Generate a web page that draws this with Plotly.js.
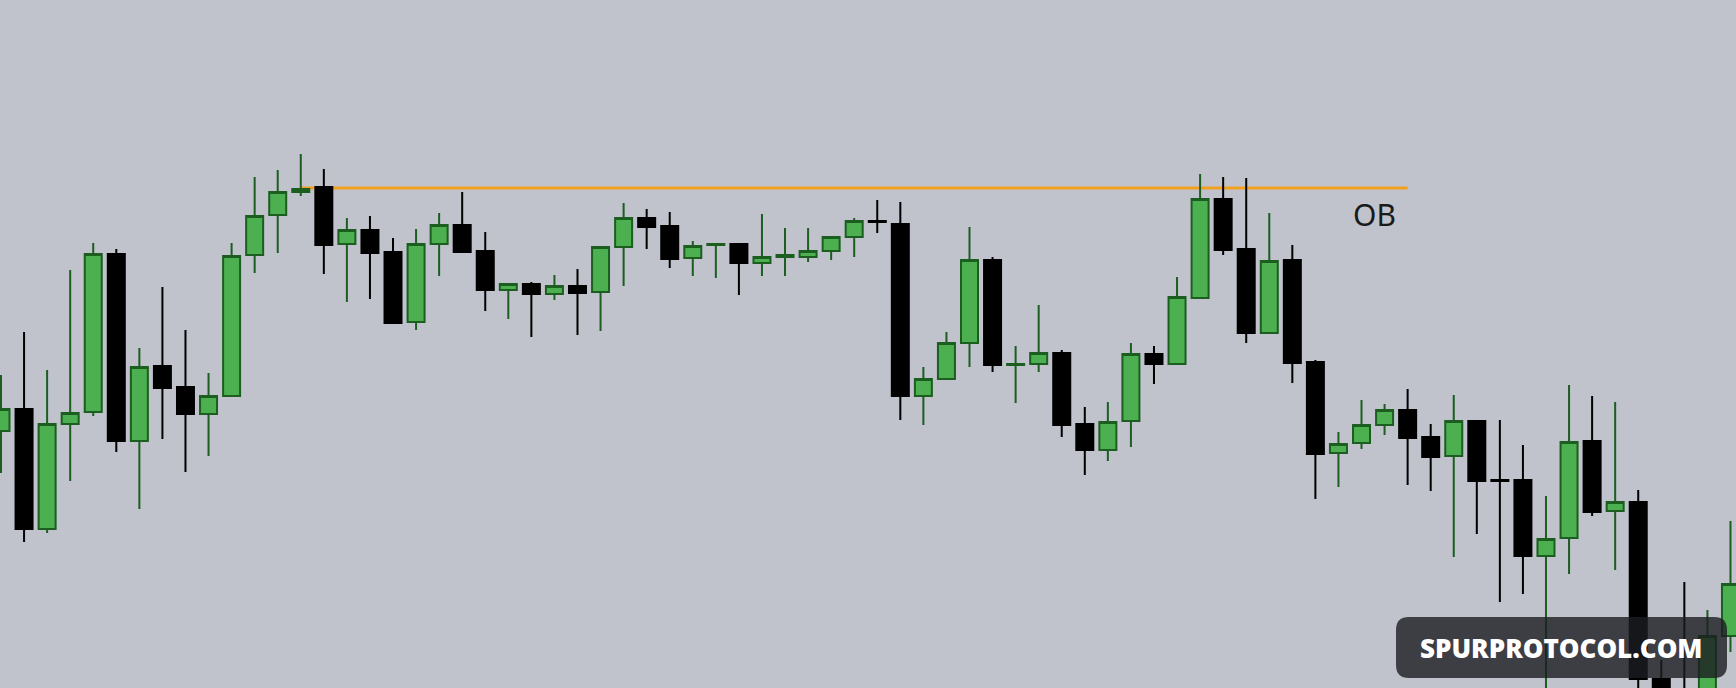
<!DOCTYPE html>
<html>
<head>
<meta charset="utf-8">
<script src="https://cdn.plot.ly/plotly-3.0.1.min.js"></script>
<style>
  html, body { margin: 0; padding: 0; overflow: hidden; background: #c0c3cc; }
  #chart { width: 1736px; height: 688px; }
</style>
</head>
<body>
<div id="chart"></div>
<script>
// Candle values (arbitrary price units)
const candleOpen  = [257,279,159,264,276,434,247,322,301,274,292,433,473,496,501,444,458,436,366,444,
                     463,437,398,404,394,402,396,441,470,462,430,443,444,425,431,431,437,451,467,464,
                     292,309,345,428,323,324,335,264,238,267,334,324,390,489,439,355,428,326,235,245,
                     263,278,251,232,267,208,208,132,150,247,177,186,9,-30,-10,52];
const candleHigh  = [313,356,318,418,445,439,340,401,358,315,445,511,518,534,519,470,472,450,459,475,
                     496,456,405,406,413,419,441,485,479,476,447,444,444,474,460,460,451,470,488,486,
                     321,356,461,431,342,383,338,281,286,345,342,411,514,511,510,475,443,328,256,288,
                     284,299,264,293,267,268,243,192,303,292,286,198,28,106,78,167];
const candleLow   = [215,146,155,207,272,236,179,249,216,232,292,415,435,492,414,386,389,365,358,412,
                     435,377,369,351,388,353,357,402,439,420,412,410,393,412,412,426,428,431,455,268,
                     263,309,321,316,285,316,251,213,227,241,304,324,389,433,345,355,305,189,201,239,
                     253,203,197,131,154,86,94,-2,114,172,118,-7,-40,-60,-20,36];
const candleClose = [279,159,264,275,434,247,321,300,274,292,432,472,496,499,443,458,435,365,444,463,
                     436,398,404,394,402,395,441,470,461,429,442,444,425,431,433,437,451,467,466,292,
                     309,345,428,323,324,335,263,238,266,334,324,391,489,438,355,427,325,234,244,263,
                     278,250,231,267,207,207,132,149,246,176,186,9,-25,-50,52,104];
const candleIndex = candleOpen.map((_, i) => i);

// Order-block level and its span (candle indexes), and label
const obLevel = 500;
const obStart = 13;
const obEnd = 61;
const obLabel = 'OB';
const watermarkText = 'SPURPROTOCOL.COM';

const trace = {
  type: 'candlestick',
  x: candleIndex,
  open: candleOpen,
  high: candleHigh,
  low: candleLow,
  close: candleClose,
  increasing: { fillcolor: '#4caf50', line: { color: '#1b5e20', width: 2 } },
  decreasing: { fillcolor: '#000000', line: { color: '#000000', width: 2 } },
  whiskerwidth: 0,
  hoverinfo: 'skip',
  showlegend: false
};

// rounded rectangle in paper coords for watermark badge
const W = 1736, H = 688;
function px(x) { return x / W; }
function py(y) { return 1 - y / H; }
const bx0 = 1396, bx1 = 1727, by0 = 617, by1 = 678, r = 13;
const badgePath =
  'M ' + px(bx0 + r) + ',' + py(by0) +
  ' L ' + px(bx1 - r) + ',' + py(by0) +
  ' Q ' + px(bx1) + ',' + py(by0) + ' ' + px(bx1) + ',' + py(by0 + r) +
  ' L ' + px(bx1) + ',' + py(by1 - r) +
  ' Q ' + px(bx1) + ',' + py(by1) + ' ' + px(bx1 - r) + ',' + py(by1) +
  ' L ' + px(bx0 + r) + ',' + py(by1) +
  ' Q ' + px(bx0) + ',' + py(by1) + ' ' + px(bx0) + ',' + py(by1 - r) +
  ' L ' + px(bx0) + ',' + py(by0 + r) +
  ' Q ' + px(bx0) + ',' + py(by0) + ' ' + px(bx0 + r) + ',' + py(by0) + ' Z';

const layout = {
  width: W,
  height: H,
  margin: { l: 0, r: 0, t: 0, b: 0, pad: 0 },
  paper_bgcolor: '#c0c3cc',
  plot_bgcolor: '#c0c3cc',
  showlegend: false,
  boxgap: 0.263,
  boxgroupgap: 0,
  xaxis: {
    range: [-0.0434, 75.24],
    visible: false,
    showgrid: false,
    zeroline: false,
    rangeslider: { visible: false },
    fixedrange: true
  },
  yaxis: {
    range: [0, 688],
    visible: false,
    showgrid: false,
    zeroline: false,
    fixedrange: true
  },
  shapes: [
    {
      type: 'line', xref: 'x', yref: 'y',
      x0: obStart, x1: obEnd, y0: obLevel, y1: obLevel,
      line: { color: '#f3a020', width: 3 },
      layer: 'below'
    },
    {
      type: 'path', xref: 'paper', yref: 'paper',
      path: badgePath,
      fillcolor: 'rgba(28,29,32,0.8)',
      line: { width: 0 },
      layer: 'above'
    }
  ],
  annotations: [
    {
      xref: 'x', yref: 'y',
      x: obEnd - 1.45, y: obLevel - 26,
      text: obLabel,
      showarrow: false,
      xanchor: 'center', yanchor: 'middle',
      font: { family: 'Noto Sans, Open Sans, sans-serif', size: 30, color: '#1a1a1a' }
    },
    {
      xref: 'paper', yref: 'paper',
      x: px((bx0 + bx1) / 2), y: py((by0 + by1) / 2),
      text: watermarkText,
      showarrow: false,
      xanchor: 'center', yanchor: 'middle',
      font: { family: 'Open Sans, Inter, sans-serif', size: 26, color: '#ffffff', weight: 800 }
    }
  ]
};

Plotly.newPlot('chart', [trace], layout, { staticPlot: true, displayModeBar: false });
</script>
</body>
</html>
